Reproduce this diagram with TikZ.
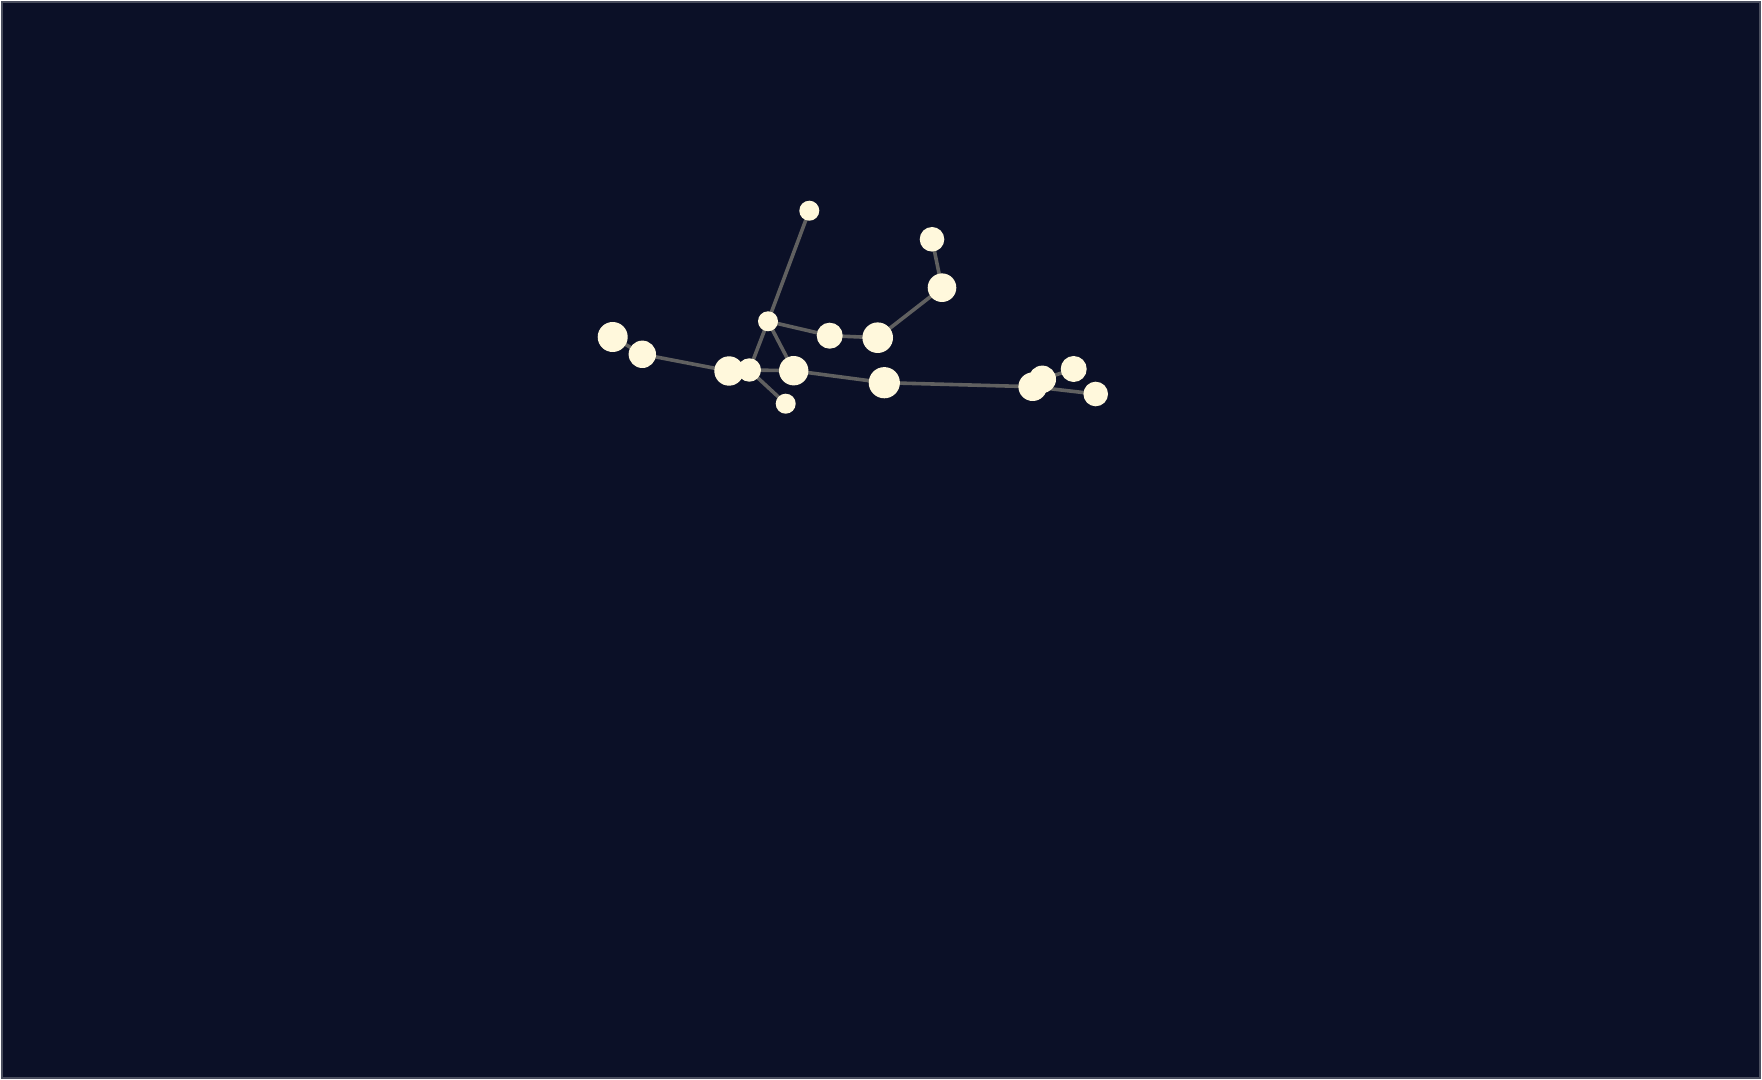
\documentclass[tikz,border=0pt]{standalone}
\definecolor{nightsky}{HTML}{0B1027}
\definecolor{starlight}{HTML}{FFF8DC}
\definecolor{linkgray}{HTML}{606060}
\definecolor{framegray}{HTML}{4A4E5E}
\pgfdeclarelayer{sky}
\pgfdeclarelayer{links}
\pgfsetlayers{sky,links,main}
\begin{document}
\begin{tikzpicture}[
  x=0.5pt, y=-0.5pt,
  star/.style={circle, fill=starlight, inner sep=0pt},
  link/.style={draw=linkgray, line width=1.8pt}
]
\useasboundingbox (0,0) rectangle (1762,1080);
\begin{pgfonlayer}{sky}
\fill[nightsky, draw=framegray, line width=1pt] (2,2) rectangle (1760,1078);
\end{pgfonlayer}

\node[star, minimum size=10pt] (tip) at (809.3,210.7) {};
\node[star, minimum size=15pt] (west) at (612.7,337) {};
\node[star, minimum size=13.7pt] (westb) at (642.3,354.3) {};
\node[star, minimum size=14.7pt] (belta) at (729,371) {};
\node[star, minimum size=11.7pt] (beltb) at (749.3,370) {};
\node[star, minimum size=10pt] (hub) at (768,321.3) {};
\node[star, minimum size=13pt] (arma) at (829.7,335.7) {};
\node[star, minimum size=15.3pt] (armb) at (877.7,337.7) {};
\node[star, minimum size=14.7pt] (core) at (793.7,370.7) {};
\node[star, minimum size=10pt] (foot) at (785.7,403.7) {};
\node[star, minimum size=15.6pt] (mid) at (884.3,382.7) {};
\node[star, minimum size=12.3pt] (crown) at (932,239.3) {};
\node[star, minimum size=14.3pt] (head) at (942,287.7) {};
\node[star, minimum size=14.3pt] (easta) at (1032.7,386.7) {};
\node[star, minimum size=13.7pt] (eastb) at (1042.3,379.3) {};
\node[star, minimum size=13pt] (eastc) at (1073.7,369) {};
\node[star, minimum size=12.3pt] (tail) at (1095.7,394) {};

% lines go under the stars
\begin{pgfonlayer}{links}
\draw[link] (tip.center) -- (hub.center);
\draw[link] (hub.center) -- (beltb.center);
\draw[link] (hub.center) -- (core.center);
\draw[link] (hub.center) -- (arma.center);
\draw[link] (arma.center) -- (armb.center);
\draw[link] (armb.center) -- (head.center);
\draw[link] (head.center) -- (crown.center);
\draw[link] (west.center) -- (westb.center);
\draw[link] (westb.center) -- (belta.center);
\draw[link] (beltb.center) -- (core.center);
\draw[link] (beltb.center) -- (foot.center);
\draw[link] (core.center) -- (mid.center);
\draw[link] (mid.center) -- (easta.center);
\draw[link] (eastb.center) -- (eastc.center);
\draw[link] (easta.center) -- (tail.center);
\end{pgfonlayer}
\end{tikzpicture}
\end{document}
